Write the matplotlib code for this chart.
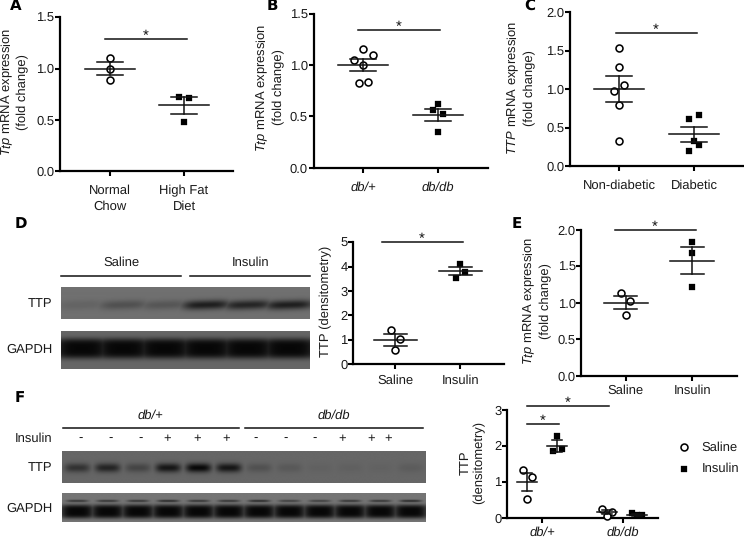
import numpy as np
import matplotlib
matplotlib.use("Agg")
import matplotlib.pyplot as plt

plt.rcParams['font.family'] = ['Liberation Sans', 'DejaVu Sans']
plt.rcParams['mathtext.fontset'] = 'custom'
plt.rcParams['mathtext.rm'] = 'Liberation Sans'
plt.rcParams['mathtext.it'] = 'Liberation Sans:italic'
plt.rcParams['mathtext.bf'] = 'Liberation Sans:bold'
plt.rcParams['text.hinting'] = 'no_hinting'
plt.rcParams['text.hinting_factor'] = 1

# ---------- data ----------
a_cats = ['Normal\nChow', 'High Fat\nDiet']
a_sal = [1.10, 1.00, 0.89]
a_sal_slot = [0, 0, 0]
a_trt = [0.72, 0.71, 0.48]
a_trt_slot = [-1, 1, 0]
a_mean = [1.00, 0.64]
a_sem = [0.063, 0.08]

b_cats = ['db/+', 'db/db']
b_sal = [1.155, 1.10, 1.05, 1.00, 0.83, 0.84]
b_sal_slot = [0, 2, -2, 0, -1, 1]
b_trt = [0.62, 0.56, 0.52, 0.35]
b_trt_slot = [0, -1, 1, 0]
b_mean = [1.00, 0.515]
b_sem = [0.06, 0.055]

c_cats = ['Non-diabetic', 'Diabetic']
c_sal = [1.54, 1.29, 1.06, 0.97, 0.79, 0.33]
c_sal_slot = [0, 0, 1, -1, 0, 0]
c_trt = [0.61, 0.66, 0.33, 0.27, 0.19]
c_trt_slot = [-1, 1, 0, 1, -1]
c_mean = [1.00, 0.41]
c_sem = [0.17, 0.095]

d_cats = ['Saline', 'Insulin']
d_sal = [1.40, 1.02, 0.57]
d_sal_slot = [-1, 1, 0]
d_trt = [4.10, 3.80, 3.55]
d_trt_slot = [0, 1, -1]
d_mean = [1.00, 3.82]
d_sem = [0.245, 0.155]

e_cats = ['Saline', 'Insulin']
e_sal = [1.13, 1.02, 0.83]
e_sal_slot = [-1, 1, 0]
e_trt = [1.83, 1.68, 1.22]
e_trt_slot = [0, 0, 0]
e_mean = [1.00, 1.58]
e_sem = [0.09, 0.18]

f_cats = ['db/+', 'db/db']
f_sal_plus = [1.33, 1.13, 0.53]
f_trt_plus = [2.28, 1.85, 1.92]
f_sal_db = [0.25, 0.15, 0.06]
f_trt_db = [0.13, 0.07, 0.08]
f_slots_a = [-1, 1, 0]
f_slots_b = [0, -1, 1]
f_slots_c = [-1, 1, 0]
f_slots_d = [-1, 0, 1]
f_means = [1.00, 2.00, 0.15, 0.08]
f_sems = [0.245, 0.17, 0.06, 0.03]

d_ttp_bands = [0.12, 0.30, 0.25, 0.78, 0.72, 0.78]
d_gapdh_bands = [1.0, 1.0, 1.0, 1.0, 1.0, 1.0]
f_ttp_bands = [0.55, 0.70, 0.35, 0.85, 1.00, 0.85, 0.22, 0.14, 0.05, 0.06, 0.04, 0.10]
f_gapdh_bands = [1.0, 1.0, 1.0, 1.0, 1.0, 1.0, 1.0, 1.0, 1.0, 1.0, 1.0, 1.0]
f_gapdh_upper = [0.6, 0.6, 0.6, 0.7, 0.6, 0.6, 0.7, 0.5, 0.5, 0.6, 0.6, 0.7]
f_inputs = ['-', '-', '-', '+', '+', '+', '-', '-', '-', '+', '+', '+']
f_inputs_x = [80.7, 110.7, 140.3, 167.3, 196.7, 226.3, 255.7, 285.3, 315, 342, 371.3, 388]

# ---------- layout ----------
W, H = 744, 540
TXT = 9.2
INK = '#1a1a1a'
fig = plt.figure(figsize=(W / 100, H / 100), dpi=100)
ov = fig.add_axes([0, 0, 1, 1], zorder=5)
ov.set_xlim(0, W)
ov.set_ylim(H, 0)
ov.axis('off')
ov.patch.set_alpha(0)


def px_axes(l, r, top, bottom):
    return fig.add_axes([l / W, 1 - bottom / H, (r - l) / W, (bottom - top) / H])


def style(ax, yticks, yfmt, pad):
    for s in ['top', 'right']:
        ax.spines[s].set_visible(False)
    for s in ['left', 'bottom']:
        ax.spines[s].set_linewidth(1.6)
    ax.set_yticks(yticks)
    ax.set_yticklabels([yfmt % t for t in yticks], fontsize=TXT, color=INK)
    ax.tick_params(axis='y', length=3.8, width=1.5, pad=0.3)
    ax.tick_params(axis='x', length=3.8, width=1.5, pad=pad)
    ax.patch.set_alpha(0)


def points(ax, x, vals, slots, step, marker):
    xs = [x + s * step for s in slots]
    if marker == 'o':
        ax.plot(xs, vals, ls='', marker='o', ms=5.0, mfc='white', mec='black', mew=1.15, clip_on=False, zorder=3)
    else:
        ax.plot(xs, vals, ls='', marker='s', ms=4.6, mfc='black', mec='black', mew=0.2, clip_on=False, zorder=3)


def summary(ax, x, mean, sem, hw, cap):
    kw = dict(color='#111111', lw=1.1, zorder=4, clip_on=False)
    ax.plot([x - hw, x + hw], [mean, mean], **kw)
    ax.plot([x - cap, x + cap], [mean + sem, mean + sem], **kw)
    ax.plot([x - cap, x + cap], [mean - sem, mean - sem], **kw)
    ax.plot([x, x], [mean - sem, mean + sem], **kw)


def sig(x0, x1, y, star_x):
    ov.plot([x0, x1], [y, y], color='#111111', lw=1.1)
    ov.text(star_x, y + 1.0, '*', fontsize=11, ha='center', va='baseline', color='#111111')


def panel(box, ylim, yticks, yfmt, cats, ticks_px, sal, sal_slot, trt, trt_slot, mean, sem, hw, cap, pad, italic=False):
    l, r, top, bottom = box
    ax = px_axes(l, r, top, bottom)
    unit = ticks_px[1] - ticks_px[0]
    ax.set_xlim((l - ticks_px[0]) / unit, (r - ticks_px[0]) / unit)
    ax.set_ylim(*ylim)
    style(ax, yticks, yfmt, pad)
    ax.set_xticks([0, 1])
    ax.set_xticklabels(cats, fontsize=TXT, color=INK, style='italic' if italic else 'normal', linespacing=1.35)
    step = 4.67 / unit
    points(ax, 0, sal, sal_slot, step, 'o')
    points(ax, 1, trt, trt_slot, step, 's')
    for i in range(2):
        summary(ax, i, mean[i], sem[i], hw / unit, cap / unit)
    return ax


def ylab(x, y, s):
    ov.text(x, y, s, rotation=90, ha='center', va='center', fontsize=TXT, color=INK,
            linespacing=1.15, multialignment='center')


panel((60, 233, 17.3, 171), (0, 1.5), [0, 0.5, 1.0, 1.5], '%.1f', a_cats, (110, 184),
      a_sal, a_sal_slot, a_trt, a_trt_slot, a_mean, a_sem, 25, 13, 6)
panel((313.7, 488, 14, 167.7), (0, 1.5), [0, 0.5, 1.0, 1.5], '%.1f', b_cats, (363.3, 438),
      b_sal, b_sal_slot, b_trt, b_trt_slot, b_mean, b_sem, 25, 13, 6, italic=True)
panel((570, 744, 12.3, 166), (0, 2.0), [0, 0.5, 1.0, 1.5, 2.0], '%.1f', c_cats, (619, 694),
      c_sal, c_sal_slot, c_trt, c_trt_slot, c_mean, c_sem, 25, 13, 6)
panel((353.3, 504, 242.3, 364), (0, 5), [0, 1, 2, 3, 4, 5], '%d', d_cats, (395.3, 460.3),
      d_sal, d_sal_slot, d_trt, d_trt_slot, d_mean, d_sem, 21.7, 11.5, 3.5)
panel((581.3, 736.7, 230, 375.7), (0, 2.0), [0, 0.5, 1.0, 1.5, 2.0], '%.1f', e_cats, (625.7, 692.3),
      e_sal, e_sal_slot, e_trt, e_trt_slot, e_mean, e_sem, 22, 11.7, 2.5)

# Panel F (grouped)
fl, fr, ft, fb = 507.3, 658, 409.7, 517.7
fax = px_axes(fl, fr, ft, fb)
fu = 623.3 - 542
fax.set_xlim((fl - 542) / fu, (fr - 542) / fu)
fax.set_ylim(0, 3)
style(fax, [0, 1, 2, 3], '%d', 2.5)
fax.set_xticks([0, 1])
fax.set_xticklabels(f_cats, fontsize=TXT, style='italic', color=INK)
fpos = [-0.18, 0.19, 0.80, 1.17]
fstep = 4.67 / fu
points(fax, fpos[0], f_sal_plus, f_slots_a, fstep, 'o')
points(fax, fpos[1], f_trt_plus, f_slots_b, fstep, 's')
points(fax, fpos[2], f_sal_db, f_slots_c, fstep * 1.15, 'o')
points(fax, fpos[3], f_trt_db, f_slots_d, fstep * 1.1, 's')
for i in range(4):
    summary(fax, fpos[i], f_means[i], f_sems[i], 10 / fu, 5 / fu)

# significance bars
sig(105, 187, 38.7, 146)
sig(358, 440, 30, 399)
sig(616, 697, 33, 656)
sig(381.7, 462.7, 242.3, 422)
sig(615, 696, 230, 655)
sig(527.3, 608.7, 406, 568)
sig(527.3, 558.7, 423.7, 543)

# y labels
ylab(14.5, 92, '$\\mathit{Ttp}$ mRNA expression\n(fold change)')
ylab(269.7, 87.5, '$\\mathit{Ttp}$ mRNA expression\n(fold change)')
ylab(521, 88, '$\\mathit{TTP}$ mRNA expression\n(fold change)')
ylab(325.7, 301.7, 'TTP (densitometry)')
ylab(536.7, 300.7, '$\\mathit{Ttp}$ mRNA expression\n(fold change)')
ylab(472, 462.4, 'TTP\n(densitometry)')

# panel letters
for (x, y, s) in [(16, 6, 'A'), (272.7, 6, 'B'), (530, 6, 'C'), (21, 224, 'D'), (516.7, 224, 'E'), (20, 397.7, 'F')]:
    ov.text(x, y, s, fontsize=10.5, fontweight='bold', family='DejaVu Sans', ha='center', va='center', color='black')


# ---------- blots ----------
def blot(box, bands, band_y, sig_x, sig_y, bg, power=1, upper=None, upper_y=0.27, tilt=0.0):
    l, r, top, bottom = box
    nx, ny = int((r - l) * 2), int((bottom - top) * 2)
    X, Y = np.meshgrid(np.linspace(0, 1, nx), np.linspace(0, 1, ny))
    n = len(bands)
    centres = (np.arange(n) + 0.5) / n
    dark = np.zeros_like(X)
    for c, b in zip(centres, bands):
        yy = band_y - tilt * (X - c) * n
        dark = np.maximum(dark, b * np.exp(-((X - c) / (sig_x / n)) ** 4) * np.exp(-np.abs((Y - yy) / sig_y) ** (2 * power)))
    if upper is not None:
        for c, b in zip(centres, upper):
            up = b * np.exp(-((X - c) / (0.36 / n)) ** 4) * np.exp(-((Y - upper_y) / 0.04) ** 2)
            dark = np.maximum(dark, up)
    img = bg * (1 - dark) + 0.03 * dark
    ax = px_axes(l, r, top, bottom)
    ax.imshow(img, cmap='gray', vmin=0, vmax=1, aspect='auto', interpolation='bilinear')
    ax.axis('off')


blot((61, 310, 287, 318.7), d_ttp_bands, 0.56, 0.58, 0.15, 0.44, tilt=0.04)
blot((61, 310, 330.7, 368.7), d_gapdh_bands, 0.46, 0.72, 0.27, 0.40, power=2)
blot((61.7, 425, 450.7, 483.3), f_ttp_bands, 0.54, 0.42, 0.14, 0.40)
blot((61.7, 425, 493.3, 522.3), f_gapdh_bands, 0.64, 0.58, 0.24, 0.46, power=2, upper=f_gapdh_upper)


def label(x, y, s, ha='center', style_='normal'):
    ov.text(x, y, s, fontsize=TXT, ha=ha, va='center', style=style_, color=INK)


def rule(x0, x1, y):
    ov.plot([x0, x1], [y, y], color='#111111', lw=1.1)


rule(61, 181, 276.3)
rule(190, 310, 276.3)
label(121, 263, 'Saline')
label(251, 263, 'Insulin')
label(52.7, 304, 'TTP', ha='right')
label(52.7, 350, 'GAPDH', ha='right')

rule(62.7, 238.7, 427.7)
rule(245, 423, 427.7)
label(150.7, 415.7, 'db/+', style_='italic')
label(334, 415.7, 'db/db', style_='italic')
label(52.7, 439, 'Insulin', ha='right')
label(52.7, 467.7, 'TTP', ha='right')
label(52.7, 508.3, 'GAPDH', ha='right')
for x, s in zip(f_inputs_x, f_inputs):
    ov.text(x, 439, s, fontsize=TXT, ha='center', va='center', color=INK)

# legend
ov.plot([683.7], [447.3], ls='', marker='o', ms=5.0, mfc='white', mec='black', mew=1.15)
ov.plot([683.7], [468.7], ls='', marker='s', ms=4.6, mfc='black', mec='black', mew=0.2)
label(701.7, 447.3, 'Saline', ha='left')
label(701.7, 468.7, 'Insulin', ha='left')

fig.savefig('out.png', dpi=100)
